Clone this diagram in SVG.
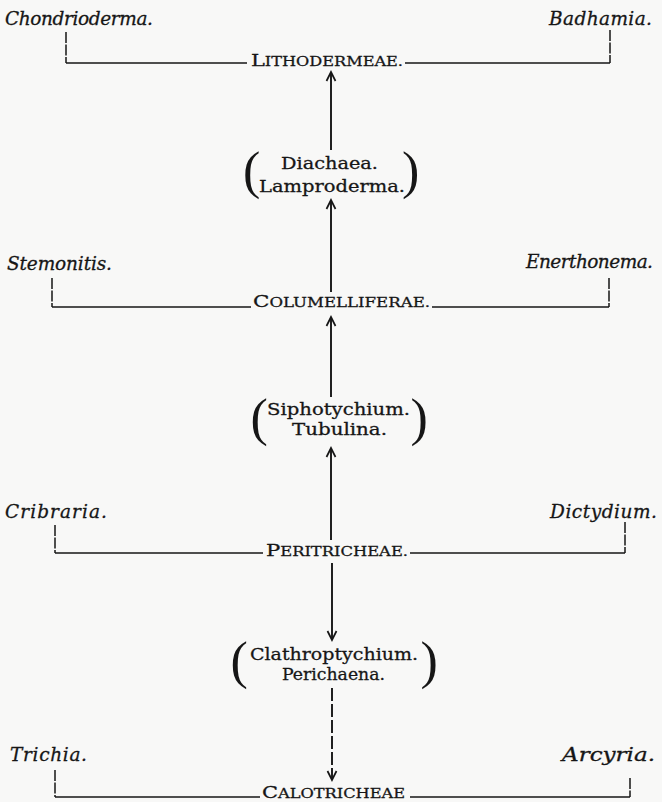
<svg xmlns="http://www.w3.org/2000/svg" width="662" height="802" viewBox="0 0 662 802">
<style>
text{fill:#161616;stroke:#161616;stroke-width:0.3}
.it{font-family:"DejaVu Serif","Liberation Serif",serif;font-style:italic;font-size:18.5px}
.rm{font-family:"DejaVu Serif","Liberation Serif",serif;font-size:17.5px}
.sc{font-family:"DejaVu Serif","Liberation Serif",serif;font-size:13.5px}
.cap{font-size:17.5px}
.par{font-family:"Liberation Serif",serif;font-size:52px;stroke-width:0}
.br{fill:none;stroke:#161616;stroke-width:1.5}
.tk{fill:none;stroke:#161616;stroke-width:1.5;stroke-dasharray:11 1.5}
.ar{fill:none;stroke:#161616;stroke-width:1.9;marker-end:url(#ah)}
.ard{fill:none;stroke:#161616;stroke-width:1.9;stroke-dasharray:13 3;marker-end:url(#ah)}
</style>
<defs>
<marker id="ah" viewBox="-10 -6 12 12" refX="0" refY="0" markerWidth="12" markerHeight="12" markerUnits="userSpaceOnUse" orient="auto">
<path d="M-9,-4.5 L0,0 L-9,4.5" fill="none" stroke="#161616" stroke-width="1.7"/>
</marker>
</defs>
<rect x="0" y="0" width="662" height="802" fill="#f8f8f7"/>

<g id="connectors">
<!-- Lithodermeae bracket -->
<path class="tk" d="M66,32 V63"/>
<path class="br" d="M66,63 H247"/>
<path class="br" d="M405,63 H610"/>
<path class="tk" d="M610,30 V63"/>
<!-- Columelliferae bracket -->
<path class="tk" d="M52,278 V307"/>
<path class="br" d="M52,307 H251"/>
<path class="br" d="M432,307 H609"/>
<path class="tk" d="M609,278 V307"/>
<!-- Peritricheae bracket -->
<path class="tk" d="M55,525 V553"/>
<path class="br" d="M55,553 H263"/>
<path class="br" d="M410,553 H625"/>
<path class="tk" d="M625,522 V553"/>
<!-- Calotricheae bracket -->
<path class="tk" d="M55,770 V797"/>
<path class="br" d="M55,797 H260"/>
<path class="br" d="M410,797 H630"/>
<path class="tk" d="M630,778 V797"/>
<!-- arrows -->
<path class="ar" d="M331,150 V72"/>
<path class="ar" d="M331,292 V200"/>
<path class="ar" d="M331,397 V317"/>
<path class="ar" d="M331,540 V448"/>
<path class="ar" d="M332,563 V640"/>
<path class="ard" d="M332,688 V780"/>
</g>

<g id="chondrioderma"><text class="it" x="5" y="25" textLength="148" lengthAdjust="spacing">Chondrioderma.</text></g>
<g id="badhamia"><text class="it" x="549" y="25" textLength="103" lengthAdjust="spacing">Badhamia.</text></g>
<g id="lithodermeae"><text class="sc" x="251" y="66" textLength="152" lengthAdjust="spacingAndGlyphs"><tspan class="cap">L</tspan>ITHODERMEAE.</text></g>

<g id="diachaea-lamproderma">
<text class="par" x="243" y="188">(</text>
<text class="rm" x="281" y="169" textLength="97" lengthAdjust="spacingAndGlyphs">Diachaea.</text>
<text class="rm" x="259" y="192" textLength="146" lengthAdjust="spacingAndGlyphs">Lamproderma.</text>
<text class="par" x="402" y="188">)</text>
</g>

<g id="stemonitis"><text class="it" x="7" y="270" textLength="105" lengthAdjust="spacing">Stemonitis.</text></g>
<g id="enerthonema"><text class="it" x="526" y="268" textLength="127" lengthAdjust="spacing">Enerthonema.</text></g>
<g id="columelliferae"><text class="sc" x="253" y="307" textLength="177" lengthAdjust="spacingAndGlyphs"><tspan class="cap">C</tspan>OLUMELLIFERAE.</text></g>

<g id="siphotychium-tubulina">
<text class="par" x="250.5" y="435">(</text>
<text class="rm" x="267" y="415" textLength="143" lengthAdjust="spacingAndGlyphs">Siphotychium.</text>
<text class="rm" x="292" y="435" textLength="95" lengthAdjust="spacingAndGlyphs">Tubulina.</text>
<text class="par" x="410.5" y="435">)</text>
</g>

<g id="cribraria"><text class="it" x="5" y="518" textLength="102" lengthAdjust="spacing">Cribraria.</text></g>
<g id="dictydium"><text class="it" x="550" y="518" textLength="107" lengthAdjust="spacing">Dictydium.</text></g>
<g id="peritricheae"><text class="sc" x="266" y="556" textLength="142" lengthAdjust="spacingAndGlyphs"><tspan class="cap">P</tspan>ERITRICHEAE.</text></g>

<g id="clathroptychium-perichaena">
<text class="par" x="230.5" y="678">(</text>
<text class="rm" x="250" y="660" textLength="168" lengthAdjust="spacingAndGlyphs">Clathroptychium.</text>
<text class="rm" x="282" y="680" textLength="103" lengthAdjust="spacingAndGlyphs">Perichaena.</text>
<text class="par" x="420.5" y="678">)</text>
</g>

<g id="trichia"><text class="it" x="10" y="761" textLength="77" lengthAdjust="spacing">Trichia.</text></g>
<g id="arcyria"><text class="it" x="562" y="761" textLength="93" lengthAdjust="spacingAndGlyphs">Arcyria.</text></g>
<g id="calotricheae"><text class="sc" x="262" y="798" textLength="143" lengthAdjust="spacingAndGlyphs"><tspan class="cap">C</tspan>ALOTRICHEAE</text></g>
</svg>
